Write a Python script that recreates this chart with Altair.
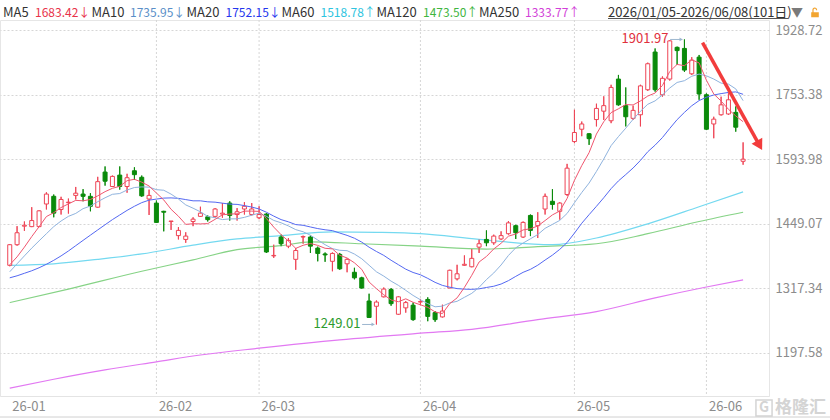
import altair as alt
import pandas as pd

# ---------------- data ----------------
opens = [1363, 1405, 1444, 1443, 1443, 1492, 1509, 1480, 1495, 1511,
         1514, 1509, 1485, 1564, 1531, 1557, 1531, 1567, 1552, 1503,
         1494, 1476, 1454, 1424, 1416, 1454, 1465, 1464, 1465, 1470,
         1494, 1469, 1481, 1469, 1462, 1470, 1382, 1421, 1402, 1375,
         1421, 1421, 1398, 1386, 1371, 1385, 1366, 1349, 1338, 1293,
         1283, 1301, 1315, 1268, 1280, 1285, 1291, 1296, 1271, 1263,
         1318, 1336, 1363, 1360, 1400, 1416, 1409, 1417, 1428, 1445,
         1421, 1467, 1445, 1481, 1498, 1476, 1513, 1636, 1666, 1655,
         1690, 1711, 1687, 1794, 1725, 1693, 1702, 1766, 1867, 1753,
         1794, 1880, 1877, 1808, 1853, 1753, 1679, 1702, 1704, 1708,
         1589]
highs = [1406, 1444, 1454, 1485, 1478, 1518, 1513, 1508, 1504, 1530,
         1525, 1516, 1553, 1577, 1556, 1577, 1560, 1575, 1556, 1524,
         1500, 1477, 1455, 1442, 1431, 1463, 1486, 1467, 1483, 1494,
         1498, 1483, 1496, 1494, 1487, 1472, 1405, 1426, 1419, 1398,
         1424, 1424, 1401, 1389, 1389, 1388, 1377, 1358, 1340, 1307,
         1294, 1319, 1318, 1302, 1293, 1290, 1297, 1300, 1274, 1286,
         1354, 1364, 1383, 1396, 1416, 1435, 1426, 1433, 1455, 1447,
         1454, 1469, 1474, 1515, 1525, 1496, 1583, 1715, 1685, 1656,
         1730, 1749, 1779, 1805, 1772, 1725, 1779, 1838, 1877, 1801,
         1900, 1882, 1901.97, 1853, 1859, 1757, 1697, 1748, 1757, 1723,
         1634]
lows = [1361, 1403, 1434, 1442, 1442, 1480, 1463, 1469, 1471, 1502,
        1498, 1476, 1484, 1533, 1530, 1524, 1517, 1546, 1508, 1468,
        1451, 1433, 1436, 1416, 1409, 1444, 1464, 1454, 1462, 1462,
        1456, 1456, 1469, 1467, 1459, 1388, 1378, 1402, 1398, 1354,
        1407, 1388, 1371, 1370, 1351, 1354, 1349, 1335, 1317, 1261,
        1249.01, 1300, 1284, 1267, 1271, 1256, 1285, 1255, 1254, 1262,
        1318, 1333, 1362, 1359, 1388, 1402, 1405, 1415, 1426, 1417,
        1419, 1423, 1419, 1469, 1480, 1458, 1510, 1632, 1649, 1628,
        1673, 1689, 1681, 1725, 1673, 1689, 1673, 1763, 1761, 1748,
        1790, 1832, 1813, 1805, 1740, 1664, 1644, 1700, 1702, 1660,
        1581]
closes = [1405, 1430, 1446, 1456, 1477, 1514, 1472, 1502, 1496, 1516,
          1509, 1487, 1542, 1543, 1554, 1531, 1551, 1558, 1510, 1511,
          1452, 1474, 1455, 1435, 1423, 1459, 1472, 1458, 1481, 1472,
          1467, 1475, 1487, 1481, 1469, 1390, 1383, 1407, 1414, 1393,
          1422, 1402, 1387, 1384, 1387, 1356, 1375, 1338, 1318, 1262,
          1291, 1316, 1288, 1301, 1290, 1258, 1292, 1264, 1258, 1274,
          1353, 1346, 1365, 1377, 1407, 1409, 1423, 1424, 1451, 1430,
          1452, 1435, 1454, 1509, 1491, 1494, 1573, 1658, 1679, 1643,
          1718, 1725, 1772, 1727, 1697, 1713, 1776, 1835, 1766, 1796,
          1898, 1871, 1818, 1845, 1755, 1666, 1691, 1727, 1740, 1671,
          1594]

# moving-average values at the start of the window (prior history not shown)
ma5_warm = [1364, 1380, 1400, 1422]
ma10_warm = [1350, 1366, 1382, 1398, 1413, 1428, 1443, 1455, 1465]
ma20_warm = [1338, 1342, 1347, 1352, 1358, 1365, 1373, 1382, 1392, 1403,
             1414, 1425, 1436, 1447, 1458, 1468, 1478, 1487, 1495]

# long moving averages
ma60_idx = [0, 6, 12, 18, 25, 31, 37, 44, 50, 56, 64, 74, 80, 87, 94, 100]
ma60_val = [1363, 1366, 1375, 1386, 1404, 1417, 1424, 1432, 1431, 1428, 1416, 1405, 1419, 1449, 1486, 1519]
ma120_idx = [0, 8, 18, 25, 31, 37, 41, 48, 56, 65, 72, 80, 87, 94, 100]
ma120_val = [1290, 1316, 1351, 1374, 1395, 1403, 1411, 1407, 1402, 1396, 1401, 1407, 1428, 1454, 1474]
ma250_idx = [0, 6, 13, 20, 26, 34, 45, 56, 63, 72, 80, 88, 95, 100]
ma250_val = [1137, 1152, 1168, 1182, 1194, 1206, 1221, 1233, 1240, 1258, 1273, 1299, 1320, 1334]

month_labels = ["26-01", "26-02", "26-03", "26-04", "26-05", "26-06"]
month_start_idx = [0, 20, 34, 56, 77, 95]
y_ticks = [1197.58, 1317.34, 1449.07, 1593.98, 1753.38, 1928.72]

ma_names = ["MA5", "MA10", "MA20", "MA60", "MA120", "MA250"]
ma_last = [1683.42, 1735.95, 1752.15, 1518.78, 1473.50, 1333.77]
ma_trend = ["↓", "↓", "↓", "↑", "↑", "↑"]
date_range_text = "2026/01/05-2026/06/08(101日)"

high_idx, high_val = 92, 1901.97
low_idx, low_val = 50, 1249.01
arrow_idx = [94.47, 102.24]
arrow_val = [1893, 1627]

# ---------------- styles ----------------
FONT = "Noto Sans CJK SC"
RED = "#ee4455"
GREEN = "#0a8a0a"
ma_line_colors = ["#f0566f", "#8fb3de", "#5468f2", "#74d9f0", "#86d386", "#e279f2"]
ma_text_colors = ["#e8334a", "#5a8fc8", "#2436ee", "#2ec4e0", "#3fb63f", "#d23fd8"]
W, H = 769, 376

xs = alt.Scale(domain=[-0.646, 102.85], nice=False, zero=False)
ys = alt.Scale(type="log", domain=[1123.9, 1957.4], nice=False)

label_expr = " : ".join(f"datum.value == {i} ? '{t}'" for i, t in zip(month_start_idx, month_labels)) + " : ''"
x_axis = alt.Axis(values=month_start_idx, labelExpr=label_expr, labelAlign="left", labelOffset=2,
                  labelBaseline="top", labelPadding=4, labelColor="#8c8c8c", labelFontSize=13,
                  labelFont=FONT, ticks=False, domain=True, domainColor="#e4e4e4", grid=False,
                  title=None, labelFlush=False, labelOverlap=False)
y_axis = alt.Axis(orient="right", values=y_ticks, format=".2f", labelColor="#8c8c8c", labelFontSize=13,
                  labelFont=FONT, labelPadding=6, ticks=False, domain=False, grid=True,
                  gridDash=[2, 2], gridColor="#d6d6d6", title=None, labelFlush=False,
                  labelOverlap=False, labelBaseline="middle")


def X(field):
    return alt.X(field, scale=xs, axis=x_axis)


def Y(field):
    return alt.Y(field, scale=ys, axis=y_axis)


n = len(closes)
df = pd.DataFrame({"i": list(range(n)), "open": opens, "high": highs, "low": lows, "close": closes})
df["dir"] = ["up" if c >= o else "down" for o, c in zip(opens, closes)]
df["w5"] = ma5_warm + [None] * (n - len(ma5_warm))
df["w10"] = ma10_warm + [None] * (n - len(ma10_warm))
df["w20"] = ma20_warm + [None] * (n - len(ma20_warm))

layers = []

# candle wicks (first layer, carries the axes)
layers.append(
    alt.Chart(df).mark_rule(strokeWidth=1).encode(
        x=X("i:Q"), y=Y("low:Q"), y2="high:Q",
        color=alt.Color("dir:N", scale=alt.Scale(domain=["up", "down"], range=[RED, GREEN]), legend=None),
    )
)

# month grid lines
layers.append(
    alt.Chart(pd.DataFrame({"i": month_start_idx[1:]})).mark_rule(
        color="#d6d6d6", strokeDash=[2, 2], strokeWidth=1
    ).encode(x=X("i:Q"), y=alt.value(0), y2=alt.value(H))
)

# long moving averages
for idx, val, col in [(ma250_idx, ma250_val, ma_line_colors[5]),
                      (ma120_idx, ma120_val, ma_line_colors[4]),
                      (ma60_idx, ma60_val, ma_line_colors[3])]:
    layers.append(
        alt.Chart(pd.DataFrame({"i": idx, "v": val})).mark_line(
            color=col, strokeWidth=1.2, interpolate="monotone"
        ).encode(x=X("i:Q"), y=Y("v:Q"))
    )

# candle wicks again on top of the long averages
layers.append(
    alt.Chart(df).mark_rule(strokeWidth=1).encode(
        x=X("i:Q"), y=Y("low:Q"), y2="high:Q",
        color=alt.Color("dir:N", scale=alt.Scale(domain=["up", "down"], range=[RED, GREEN]), legend=None),
    )
)
# candle bodies
layers.append(
    alt.Chart(df).mark_bar(size=4, strokeWidth=1).encode(
        x=X("i:Q"), y=Y("open:Q"), y2="close:Q",
        fill=alt.Fill("dir:N", scale=alt.Scale(domain=["up", "down"], range=["#ffffff", GREEN]), legend=None),
        stroke=alt.Stroke("dir:N", scale=alt.Scale(domain=["up", "down"], range=[RED, GREEN]), legend=None),
    )
)

# short moving averages computed from closes
sort_i = [alt.SortField(field="i", order="ascending")]
ma_base = (
    alt.Chart(df)
    .transform_window(m5="mean(close)", frame=[-4, 0], sort=sort_i)
    .transform_window(m10="mean(close)", frame=[-9, 0], sort=sort_i)
    .transform_window(m20="mean(close)", frame=[-19, 0], sort=sort_i)
    .transform_calculate(
        MA5="datum.i < 4 ? datum.w5 : datum.m5",
        MA10="datum.i < 9 ? datum.w10 : datum.m10",
        MA20="datum.i < 19 ? datum.w20 : datum.m20",
    )
)
for field, col in [("MA20", ma_line_colors[2]), ("MA10", ma_line_colors[1]), ("MA5", ma_line_colors[0])]:
    layers.append(
        ma_base.mark_line(color=col, strokeWidth=1).encode(x=X("i:Q"), y=Y(f"{field}:Q"))
    )

# high / low annotations
for idx, val, tcol in [(high_idx, high_val, "#e0303c"), (low_idx, low_val, "#2e9b2e")]:
    a = alt.Chart(pd.DataFrame({"i": [idx], "v": [val]}))
    layers.append(
        a.mark_text(align="right", baseline="middle", dx=-16, fontSize=13, font=FONT, color=tcol).encode(
            x=X("i:Q"), y=Y("v:Q"), text=alt.Text("v:Q", format=".2f"))
    )
    layers.append(
        a.transform_calculate(a0="datum.i - 1.95", a1="datum.i - 0.3").mark_rule(
            color="#9db7cf", strokeWidth=1
        ).encode(x=X("a0:Q"), x2="a1:Q", y=Y("v:Q"))
    )
    layers.append(
        a.transform_calculate(ah="datum.i - 0.45").mark_point(
            shape="triangle-right", size=14, filled=True, color="#9db7cf", opacity=1
        ).encode(x=X("ah:Q"), y=Y("v:Q"))
    )

# big red arrow
layers.append(
    alt.Chart(pd.DataFrame({"i": arrow_idx, "v": arrow_val})).mark_line(
        color="#f23c3c", strokeWidth=3.5
    ).encode(x=X("i:Q"), y=Y("v:Q"))
)
layers.append(
    alt.Chart(pd.DataFrame({"i": arrow_idx[-1:], "v": arrow_val[-1:]})).mark_point(
        shape="triangle-up", angle=150.7, size=150, filled=True, color="#f23c3c", opacity=1
    ).encode(x=X("i:Q"), y=Y("v:Q"))
)

# header legend
label_x = [3, 91.5, 186.5, 281.5, 376.5, 479]
value_x = [35, 130, 225.5, 320.5, 423, 525]
HY = -7.5


def header_text(t, px, color, size=13, align="left"):
    return alt.Chart(pd.DataFrame({"t": [t]})).mark_text(
        align=align, baseline="middle", fontSize=size, font=FONT, color=color
    ).encode(x=alt.value(px), y=alt.value(HY), text="t:N")


for name, last, tr, tc, lx, vx in zip(ma_names, ma_last, ma_trend, ma_text_colors, label_x, value_x):
    layers.append(header_text(name, lx, "#333333"))
    layers.append(header_text(f"{last:.2f}{tr}", vx, tc, size=12))

layers.append(header_text(date_range_text, 608, "#333333"))
layers.append(
    alt.Chart(pd.DataFrame({"t": ["u"]})).mark_rule(color="#555555", strokeWidth=1).encode(
        x=alt.value(608), x2=alt.value(788), y=alt.value(-1.5))
)
layers.append(header_text("▼", 797, "#7a7a7a", size=12, align="center"))
lock_path = ("M-0.8,-0.05 L0.8,-0.05 L0.8,1 L-0.8,1 Z "
             "M-0.55,-0.05 L-0.55,-0.55 A0.5,0.5 0 0 1 0.45,-0.6 L0.45,-0.45 L0.2,-0.45 "
             "L0.2,-0.58 A0.25,0.25 0 0 0 -0.3,-0.55 L-0.3,-0.05 Z")
layers.append(
    alt.Chart(pd.DataFrame({"t": ["lock"]})).mark_point(
        shape=lock_path, size=90, filled=True, color="#f2a531", opacity=1
    ).encode(x=alt.value(815), y=alt.value(HY))
)

# watermark and bottom border
layers.append(
    alt.Chart(pd.DataFrame({"t": ["格隆汇"]})).mark_text(
        align="left", baseline="middle", fontSize=17, font=FONT, fontWeight="bold", color="#d4d4d4"
    ).encode(x=alt.value(775), y=alt.value(388), text="t:N")
)
layers.append(
    alt.Chart(pd.DataFrame({"t": ["G"]})).mark_text(
        align="center", baseline="middle", fontSize=14, font=FONT, fontWeight="bold", color="#d4d4d4"
    ).encode(x=alt.value(764), y=alt.value(388), text="t:N")
)
layers.append(
    alt.Chart(pd.DataFrame({"t": ["box"]})).mark_point(
        shape="square", size=260, filled=False, strokeWidth=1.5, color="#d4d4d4", opacity=1
    ).encode(x=alt.value(764), y=alt.value(388))
)
layers.append(
    alt.Chart(pd.DataFrame({"t": ["b"]})).mark_rule(color="#d0d0d0", strokeWidth=1).encode(
        x=alt.value(0), x2=alt.value(830), y=alt.value(H + 21))
)

chart = alt.layer(*layers).properties(
    width=W, height=H,
    padding={"left": 0, "top": 20, "right": 61, "bottom": 24},
    autosize=alt.AutoSizeParams(type="none"),
    background="white",
).configure_view(stroke="#e6e6e6", strokeWidth=1)

chart.save("out.html", embed_options={"renderer": "svg", "actions": False})
